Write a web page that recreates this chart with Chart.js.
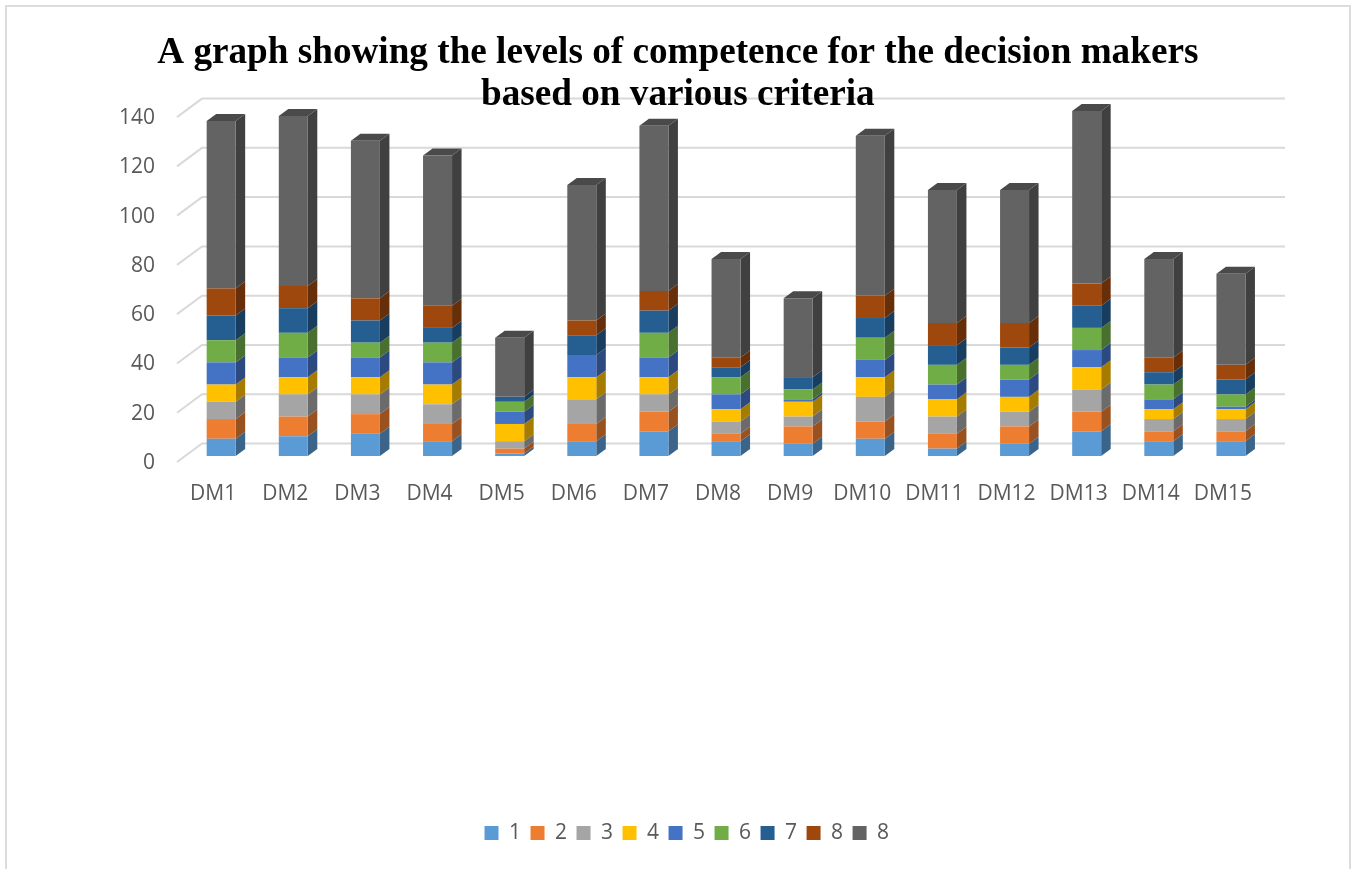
<!DOCTYPE html>
<html>
<head>
<meta charset="utf-8">
<title>Levels of competence</title>
<script src="https://cdn.jsdelivr.net/npm/chart.js@4/dist/chart.umd.js"></script>
<style>
  html, body { margin: 0; padding: 0; background: #fff; overflow: hidden; }
  #frame { position: absolute; left: 5px; top: 5px; width: 1342px; height: 870px; border: 2px solid #dcdcdc; }
  #competence { position: absolute; left: 0; top: 0; }
</style>
</head>
<body>
<div id="frame"></div>
<canvas id="competence" width="1351" height="869"></canvas>
<script>
const makers = ['DM1','DM2','DM3','DM4','DM5','DM6','DM7','DM8','DM9','DM10','DM11','DM12','DM13','DM14','DM15'];

const criteria1 = [7,8,9,6,1,6,10,6,5,7,3,5,10,6,6];
const criteria2 = [8,8,8,7,2,7,8,3,7,7,6,7,8,4,4];
const criteria3 = [7,9,8,8,3,10,7,5,4,10,7,6,9,5,5];
const criteria4 = [7,7,7,8,7,9,7,5,6,8,7,6,9,4,4];
const criteria5 = [9,8,8,9,5,9,8,6,1,7,6,7,7,4,1];
const criteria6 = [9,10,6,8,4,0,10,7,4,9,8,6,9,6,5];
const criteria7 = [10,10,9,6,2,8,9,4,5,8,8,7,9,5,6];
const criteria8a = [11,9,9,9,0,6,8,4,0,9,9,10,9,6,6];
const criteria8b = [68,69,64,61,24,55,67,40,32,65,54,54,70,40,37];

const seriesLabels = ['1','2','3','4','5','6','7','8','8'];
const seriesValues = [criteria1,criteria2,criteria3,criteria4,criteria5,criteria6,criteria7,criteria8a,criteria8b];
const frontColors = ['#5b9bd5','#ed7d31','#a5a5a5','#ffc000','#4472c4','#70ad47','#255e91','#9e480e','#636363'];
const sideColors = ['#3a648a','#9a5120','#6b6b6b','#a67c00','#2c4a7f','#49702e','#183d5e','#672f09','#404040'];
const topColors = ['#4279ab','#b5602a','#7e7e7e','#c49400','#34589a','#567f37','#1c4a70','#7a370b','#4a4a4a'];

const DEPTH_X = 9.5, DEPTH_Y = 7;

// back wall gridlines with the short floor stubs on the left
const wallGrid = {
  id: 'wallGrid',
  beforeDraw(chart) {
    const { ctx, scales: { y } } = chart;
    ctx.save();
    ctx.strokeStyle = '#d9d9d9';
    ctx.lineWidth = 2;
    y.ticks.forEach(t => {
      const py = y.getPixelForValue(t.value);
      ctx.beginPath();
      ctx.moveTo(177, py + 6);
      ctx.lineTo(202, py - 12.5);
      ctx.lineTo(1285, py - 12.5);
      ctx.stroke();
    });
    ctx.restore();
  }
};

// extruded right side and cap of every stacked bar
const barDepth = {
  id: 'barDepth',
  afterLayout(chart) {
    // legend sits a little right of the title's centre
    chart.legend.left += 9;
    chart.legend.right += 9;
  },
  beforeDatasetsDraw(chart) {
    const { ctx } = chart;
    ctx.save();
    chart.data.datasets.forEach((ds, i) => {
      chart.getDatasetMeta(i).data.forEach((bar, j) => {
        if (!ds.data[j]) return;
        const right = bar.x + bar.width / 2;
        ctx.fillStyle = sideColors[i];
        ctx.beginPath();
        ctx.moveTo(right, bar.base);
        ctx.lineTo(right + DEPTH_X, bar.base - DEPTH_Y);
        ctx.lineTo(right + DEPTH_X, bar.y - DEPTH_Y);
        ctx.lineTo(right, bar.y);
        ctx.closePath();
        ctx.fill();
        if (i === chart.data.datasets.length - 1) {
          const left = bar.x - bar.width / 2;
          ctx.fillStyle = topColors[i];
          ctx.beginPath();
          ctx.moveTo(left, bar.y);
          ctx.lineTo(left + DEPTH_X, bar.y - DEPTH_Y);
          ctx.lineTo(right + DEPTH_X, bar.y - DEPTH_Y);
          ctx.lineTo(right, bar.y);
          ctx.closePath();
          ctx.fill();
        }
      });
    });
    ctx.restore();
  }
};

const labelFont = { family: '"Open Sans", sans-serif', size: 21 };

new Chart(document.getElementById('competence'), {
  type: 'bar',
  data: {
    labels: makers,
    datasets: seriesValues.map((vals, i) => ({
      label: seriesLabels[i],
      data: vals,
      backgroundColor: frontColors[i],
      borderWidth: 0,
      categoryPercentage: 1,
      barPercentage: 0.402
    }))
  },
  options: {
    responsive: false,
    animation: false,
    layout: { padding: { left: 88.6, right: 84, bottom: 15.6 } },
    scales: {
      x: {
        stacked: true,
        grid: { display: false, drawTicks: false },
        border: { display: false },
        ticks: { color: '#595959', font: labelFont, padding: 25, labelOffset: -8, maxRotation: 0, autoSkip: false },
        afterFit(scale) { scale.height = 356.9; }
      },
      y: {
        stacked: true,
        min: 0,
        max: 140,
        grid: { display: false, drawTicks: false },
        border: { display: false },
        ticks: { color: '#595959', font: labelFont, stepSize: 20, padding: 30, labelOffset: 7 },
        afterFit(scale) { scale.width = 96.5; }
      }
    },
    plugins: {
      tooltip: { enabled: false },
      title: {
        display: true,
        text: ['A graph showing the levels of competence for the decision makers', 'based on various criteria'],
        color: '#000',
        font: { family: '"Liberation Serif", serif', size: 37.2, weight: 'bold', lineHeight: 1.13 },
        padding: { top: 32, bottom: -5 }
      },
      legend: {
        position: 'bottom',
        labels: { color: '#595959', font: labelFont, boxWidth: 14, boxHeight: 14, padding: 9.5 }
      }
    }
  },
  plugins: [wallGrid, barDepth]
});
</script>
</body>
</html>
